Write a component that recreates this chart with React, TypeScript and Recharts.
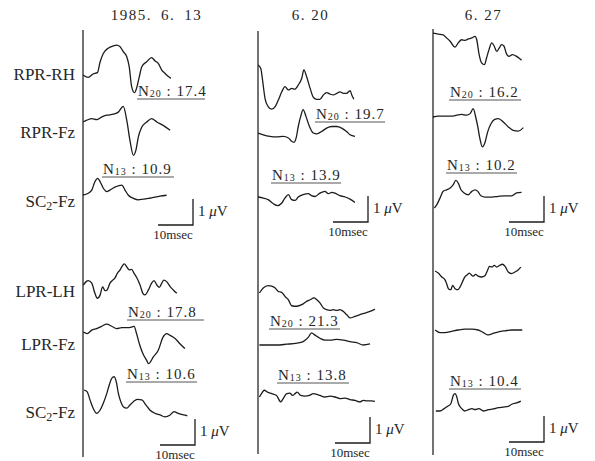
import React from 'react';
import { LineChart, Line, XAxis, YAxis } from 'recharts';

// column headers (recording dates) and row labels (leads)
const dates = ['1985.\u20026.\u200213', '6. 20', '6. 27'];
const leads: [string, string, string][] = [
  ['RPR-RH', '', ''],
  ['RPR-Fz', '', ''],
  ['SC', '2', '-Fz'],
  ['LPR-LH', '', ''],
  ['LPR-Fz', '', ''],
  ['SC', '2', '-Fz'],
];

// traces: latency t (msec from stimulus line), amplitude v (µV, up = positive)
const rprRh13 = {
  t: [0, 1.5, 2.9, 4.1, 4.9, 5.8, 7.2, 8.7, 9.6, 10.6, 11.5, 12.5, 13.2, 13.9, 14.7, 15.3, 16.1, 16.8, 18.2, 19.6, 20.6, 21.5, 22.5, 23.4, 24.4, 25.1],
  v: [0, -0.09, 0.04, 0.09, 0.51, 0.83, 1.03, 1.12, 1.15, 1.09, 0.9, 0.7, 0.32, -0.45, -0.68, -0.51, -0.06, 0.32, 0.51, 0.67, 0.54, 0.45, 0.19, 0.07, -0.06, -0.13],
};
const rprFz13 = {
  t: [0, 1.1, 2.5, 3.9, 5.3, 6.8, 8.7, 10.1, 11.5, 12.5, 13.4, 14.4, 15.1, 15.8, 16.8, 18.2, 19.6, 21.1, 22.9, 24.9],
  v: [0, 0.07, 0.13, 0.09, 0.19, 0.26, 0.3, 0.38, 0.6, 0.07, -0.7, -1.28, -1.09, -0.58, -0.19, 0, 0.13, 0, -0.13, -0.32],
};
const sc2a13 = {
  t: [0, 1.5, 2.5, 3.4, 4.2, 4.9, 5.8, 6.8, 7.7, 9.1, 10.1, 11.1, 12.0, 12.9, 14.4, 15.8, 17.2, 18.7, 20.1, 22.0, 23.9],
  v: [0, 0.07, 0.19, 0.51, 0.64, 0.51, 0.26, 0.13, 0.19, 0.3, 0.35, 0.38, 0.19, 0, -0.13, -0.19, -0.16, -0.13, -0.09, -0.04, -0.01],
};
const lprLh13 = {
  t: [0.1, 0.9, 1.5, 2.5, 3.4, 4.1, 4.9, 5.6, 6.3, 6.9, 7.7, 8.5, 9.1, 9.8, 10.6, 11.2, 11.8, 12.5, 13.2, 13.9, 14.6, 15.3, 16.3, 17.1, 17.7, 18.7, 19.6, 20.3, 21.1, 21.8, 22.5, 23.1, 23.9, 24.9, 25.8, 26.8],
  v: [0, 0.13, 0.17, 0.07, -0.32, -0.51, -0.38, -0.07, -0.22, -0.19, 0.07, 0.19, 0.26, 0.45, 0.58, 0.73, 0.81, 0.7, 0.58, 0.6, 0.45, 0.3, 0, -0.32, -0.38, -0.19, 0.07, 0.17, 0, -0.09, 0.07, 0.19, 0.13, -0.06, -0.19, -0.32],
};
const lprFz13 = {
  t: [0.1, 1.2, 2.5, 3.9, 5.3, 6.8, 8.2, 9.6, 11.1, 12.5, 13.9, 14.6, 15.3, 16.1, 17.1, 18.2, 18.7, 20.1, 21.5, 22.9, 23.9, 24.9, 26.3, 27.7, 29.1],
  v: [0, -0.06, 0.07, 0.13, 0.22, 0.3, 0.22, 0.13, 0.17, 0.17, 0.19, 0.22, -0.06, -0.45, -0.83, -1.09, -1.22, -0.96, -0.7, -0.19, -0.06, -0.13, -0.25, -0.45, -0.64],
};
const sc2b13 = {
  t: [0.3, 1.2, 2.0, 2.9, 3.9, 4.9, 5.8, 6.8, 7.5, 8.2, 8.9, 9.6, 10.1, 10.8, 11.5, 12.5, 13.4, 14.4, 15.5, 16.8, 18.0, 19.1, 20.6, 22.0, 23.4, 24.9, 26.0, 27.2, 28.7, 29.8],
  v: [0, -0.07, -0.38, -0.7, -0.9, -0.77, -0.51, -0.13, 0.19, 0.45, 0.51, 0.26, -0.13, -0.45, -0.64, -0.7, -0.58, -0.45, -0.36, -0.38, -0.58, -0.77, -0.9, -0.96, -1.03, -0.96, -0.83, -0.9, -0.96, -0.99],
};

const rprRh20 = {
  t: [0, 0.8, 1.3, 2.0, 2.9, 3.9, 4.9, 5.8, 6.8, 7.7, 8.7, 9.6, 10.5, 11.5, 12.5, 13.1, 13.9, 14.9, 15.8, 16.8, 17.7, 18.7, 19.6, 20.6, 21.5, 22.5, 23.4, 24.4, 25.3, 26.3, 26.8, 27.4],
  v: [0, -0.13, -0.58, -1.28, -1.6, -1.7, -1.6, -1.35, -1.03, -0.83, -0.96, -0.9, -0.93, -0.77, -0.51, -0.19, -0.45, -0.9, -1.24, -1.32, -1.32, -1.15, -1.06, -1.12, -1.15, -1.09, -1.03, -1.09, -1.09, -0.99, -1.15, -1.32],
};
const rprFz20 = {
  t: [0, 1.5, 3.4, 5.3, 7.2, 8.7, 9.6, 10.3, 10.9, 11.5, 12.2, 12.9, 13.7, 14.7, 15.8, 16.8, 18.2, 19.6, 21.1, 22.5, 23.9, 25.3, 26.3, 27.7],
  v: [0, -0.07, -0.13, -0.15, -0.13, -0.19, -0.32, -0.36, -0.19, 0.25, 0.64, 0.9, 0.64, 0.25, 0, -0.03, 0.06, 0.19, 0.25, 0.25, 0.19, 0.06, -0.07, -0.13],
};
const sc2a20 = {
  t: [0, 1.5, 2.9, 4.4, 5.6, 6.8, 7.7, 8.7, 9.6, 10.6, 11.5, 12.9, 14.4, 15.3, 16.3, 17.7, 19.1, 20.1, 21.1, 22.0, 23.4, 24.9, 26.3, 27.7],
  v: [0, -0.04, -0.1, -0.26, -0.33, -0.23, -0.04, 0.09, -0.1, -0.13, 0, 0.09, 0.13, 0.05, 0.02, 0.15, 0.22, 0.13, 0.18, 0.15, 0.05, 0, -0.08, -0.21],
};
const lprLh20 = {
  t: [0.4, 1.5, 2.9, 3.9, 4.9, 5.8, 6.8, 7.7, 8.7, 9.6, 11.1, 12.5, 13.9, 14.9, 16.0, 16.8, 17.7, 18.7, 19.6, 20.6, 21.5, 22.5, 23.4, 24.4, 25.3, 26.3, 27.7, 29.1, 30.6, 32.0, 33.4],
  v: [0, 0.19, 0.28, 0.26, 0.19, 0.06, 0.02, -0.13, -0.26, -0.49, -0.51, -0.45, -0.32, -0.26, -0.19, -0.26, -0.38, -0.58, -0.64, -0.67, -0.64, -0.67, -0.64, -0.71, -0.83, -0.96, -0.9, -0.83, -0.77, -0.71, -0.62],
};
const lprFz20 = {
  t: [0.4, 2.5, 5.3, 8.2, 11.1, 12.9, 14.4, 15.3, 16.3, 17.7, 19.1, 21.1, 22.5, 24.4, 26.3, 28.2, 30.1, 32.0],
  v: [0, 0, 0, 0.03, 0.07, 0.13, 0.3, 0.47, 0.38, 0.26, 0.19, 0.19, 0.22, 0.19, 0.13, 0.09, 0, 0.04],
};
const sc2b20 = {
  t: [0.4, 1.1, 1.8, 2.7, 3.9, 5.3, 6.5, 7.2, 8.2, 9.1, 9.9, 10.6, 11.2, 12.2, 13.4, 14.7, 15.8, 16.8, 17.7, 19.1, 20.6, 22.0, 23.4, 24.9, 26.3, 27.7, 29.1, 30.1, 31.1, 32.5, 33.4],
  v: [0, 0.15, 0.26, 0.19, 0.13, 0.06, -0.19, -0.06, 0.13, 0.15, 0.06, 0.13, 0.19, 0.06, 0.03, 0.06, 0.13, 0.1, 0.06, 0, 0.03, 0, -0.06, -0.04, -0.1, -0.13, -0.19, -0.13, -0.15, -0.15, -0.17],
};

const rprRh27 = {
  t: [0, 1.5, 2.9, 3.9, 4.9, 6.3, 7.2, 8.2, 9.1, 10.1, 11.1, 12.0, 12.5, 13.1, 13.9, 14.7, 15.3, 16.0, 16.8, 17.5, 18.2, 18.9, 19.6, 20.3, 20.9, 21.7, 22.7, 23.9, 24.9, 25.3],
  v: [0, -0.04, -0.07, -0.19, -0.32, -0.54, -0.38, -0.26, -0.28, -0.23, -0.19, -0.13, -0.26, -0.77, -1.15, -1.22, -0.96, -0.64, -0.38, -0.51, -0.71, -0.58, -0.45, -0.51, -0.77, -0.9, -0.83, -0.9, -1.0, -1.05],
};
const rprFz27 = {
  t: [0, 1.5, 3.4, 5.3, 6.8, 8.2, 9.6, 10.6, 11.5, 12.2, 12.8, 13.4, 14.1, 14.9, 15.6, 16.6, 17.5, 18.7, 20.1, 21.5, 22.9, 24.4, 25.8],
  v: [0, 0.03, 0.03, 0.03, 0.07, 0.1, 0.07, 0.13, 0.32, 0, -0.38, -0.83, -1.15, -0.96, -0.58, -0.25, -0.1, -0.06, -0.19, -0.38, -0.51, -0.54, -0.41],
};
const sc2a27 = {
  t: [0.4, 1.1, 2.0, 2.9, 3.9, 4.9, 5.8, 6.5, 7.2, 8.0, 8.9, 10.1, 11.1, 12.0, 12.8, 13.7, 14.9, 16.8, 18.7, 20.6, 22.5, 23.9, 25.3],
  v: [0, 0.13, 0.38, 0.64, 0.7, 0.77, 0.9, 1.06, 0.96, 0.7, 0.58, 0.51, 0.64, 0.7, 0.64, 0.47, 0.42, 0.42, 0.45, 0.47, 0.47, 0.58, 0.6],
};
const lprLh27 = {
  t: [0.6, 1.5, 2.5, 3.4, 3.9, 4.4, 5.1, 5.6, 6.3, 7.1, 7.7, 8.4, 9.1, 9.9, 10.4, 11.1, 11.5, 12.2, 12.9, 13.9, 14.9, 15.6, 16.1, 16.9, 17.5, 18.2, 19.1, 19.8, 20.6, 21.5, 22.5, 23.4, 24.4, 25.1],
  v: [0, -0.08, -0.23, -0.33, -0.49, -0.68, -0.72, -0.55, -0.68, -0.72, -0.62, -0.42, -0.23, -0.13, -0.08, -0.17, -0.2, -0.13, -0.2, -0.23, -0.17, 0.03, 0.18, 0.15, 0.22, 0.15, 0.22, 0.26, 0.18, -0.04, -0.1, -0.04, 0.05, 0.15],
};
const lprFz27 = {
  t: [0.6, 2.0, 3.4, 5.3, 7.2, 9.1, 11.1, 12.9, 14.4, 15.6, 16.8, 18.7, 20.6, 22.5, 24.4, 25.5],
  v: [0, -0.1, -0.1, -0.05, 0, 0.03, 0.03, 0, -0.1, -0.19, -0.15, -0.07, -0.03, 0, 0, 0],
};
const sc2b27 = {
  t: [0.8, 2.0, 3.2, 4.2, 5.1, 5.8, 6.3, 6.8, 7.2, 8.2, 9.1, 10.1, 11.1, 12.0, 13.1, 14.4, 15.8, 17.2, 18.7, 20.1, 21.5, 22.5, 23.9, 25.1],
  v: [0, 0, 0.09, 0.18, 0.28, 0.6, 0.67, 0.54, 0.31, 0.09, 0, 0.05, 0.09, 0.05, 0.09, 0, 0.05, 0.08, 0.13, 0.15, 0.18, 0.26, 0.31, 0.38],
};

const traces = [
  [rprRh13, rprFz13, sc2a13, lprLh13, lprFz13, sc2b13],
  [rprRh20, rprFz20, sc2a20, lprLh20, lprFz20, sc2b20],
  [rprRh27, rprFz27, sc2a27, lprLh27, lprFz27, sc2b27],
];

// peak labels: [column, component, subscript, latency]
const peaks: [number, string, string, string][] = [
  [0, 'N', '20', '17.4'],
  [0, 'N', '13', '10.9'],
  [0, 'N', '20', '17.8'],
  [0, 'N', '13', '10.6'],
  [1, 'N', '20', '19.7'],
  [1, 'N', '13', '13.9'],
  [1, 'N', '20', '21.3'],
  [1, 'N', '13', '13.8'],
  [2, 'N', '20', '16.2'],
  [2, 'N', '13', '10.2'],
  [2, 'N', '13', '10.4'],
];

// ---- layout ----
const PX_PER_MS = 3.5;
const PX_PER_UV = 26;
const SPAN_MS = 40;
const HALF = 60;
const COL_X = [83, 258, 433];
const COL_LINE = [[30, 457], [31, 454], [29, 455]];
const TITLE_X = [156.5, 310.5, 483.5];
const BASE_Y = [
  [75, 121.7, 195, 285, 331.7, 390],
  [65, 133.3, 197.3, 293.3, 345, 396.7],
  [33.3, 116.7, 208.3, 270.7, 330, 410.7],
];
const LABEL_Y = [80, 138, 207, 297, 350, 418];
const NOTE_POS = [
  [138, 96, 205], [103, 174, 174], [128, 317, 204], [127, 379, 197],
  [316, 119, 385], [272, 180, 341], [270, 326, 340], [278, 380, 349],
  [450, 97, 521], [447, 170, 517], [450, 386, 521],
];
const BAR_CORNER = [[193, 225], [368, 222], [544, 222], [195, 445], [370, 443], [544, 442]];

const INK = '#1c1c1c';
const FONT = '"Liberation Serif", "DejaVu Serif", serif';

function Trace({ trace, left, base }: { trace: { t: number[]; v: number[] }; left: number; base: number }) {
  const rows = trace.t.map((t, i) => ({ t, v: trace.v[i] }));
  return (
    <div style={{ position: 'absolute', left, top: base - HALF }}>
      <LineChart width={SPAN_MS * PX_PER_MS} height={HALF * 2} data={rows} margin={{ top: 0, right: 0, bottom: 0, left: 0 }}>
        <XAxis type="number" dataKey="t" domain={[0, SPAN_MS]} hide allowDataOverflow />
        <YAxis type="number" domain={[-HALF / PX_PER_UV, HALF / PX_PER_UV]} hide allowDataOverflow />
        <Line dataKey="v" type="monotone" stroke={INK} strokeWidth={1.3} dot={false} isAnimationActive={false} />
      </LineChart>
    </div>
  );
}

export default function App() {
  return (
    <div style={{ position: 'absolute', left: 0, top: 0, width: 595, height: 461, background: '#fff', overflow: 'hidden' }}>
      <svg width={595} height={461} style={{ position: 'absolute', left: 0, top: 0 }} fontFamily={FONT} fill="#262626">
        {dates.map((d, c) => (
          <text key={d} x={TITLE_X[c]} y={19.5} fontSize={15} letterSpacing={1.5} textAnchor="middle">{d}</text>
        ))}
        {COL_X.map((x, c) => (
          <line key={c} x1={x} x2={x} y1={COL_LINE[c][0]} y2={COL_LINE[c][1]} stroke="#444" strokeWidth={1.5} />
        ))}
        {leads.map(([a, sub, b], r) => (
          <text key={r} x={75} y={LABEL_Y[r]} fontSize={17} textAnchor="end">
            {a}
            {sub && <tspan fontSize={12} dy={3}>{sub}</tspan>}
            {b && <tspan dy={-3}>{b}</tspan>}
          </text>
        ))}
        {peaks.map(([, comp, sub, lat], i) => {
          const [x, y, x2] = NOTE_POS[i];
          return (
            <g key={i}>
              <text x={x} y={y} fontSize={15} letterSpacing={1}>
                {comp}
                <tspan fontSize={10} dy={1}>{sub}</tspan>
                <tspan dy={-1}>{' : ' + lat}</tspan>
              </text>
              <line x1={x - 1} x2={x2} y1={y + 3} y2={y + 3} stroke="#555" strokeWidth={1} />
            </g>
          );
        })}
        {BAR_CORNER.map(([x, y], i) => (
          <g key={i}>
            <polyline
              points={`${x - 10 * PX_PER_MS},${y} ${x},${y} ${x},${y - PX_PER_UV}`}
              fill="none"
              stroke={INK}
              strokeWidth={1.3}
            />
            <text x={x + 5} y={y - 9} fontSize={15}>
              1 <tspan fontStyle="italic">μ</tspan>V
            </text>
            <text x={x - 20} y={y + 14} fontSize={13} textAnchor="middle">10msec</text>
          </g>
        ))}
      </svg>
      {traces.map((col, c) =>
        col.map((tr, r) => <Trace key={`${c}-${r}`} trace={tr} left={COL_X[c]} base={BASE_Y[c][r]} />)
      )}
    </div>
  );
}
